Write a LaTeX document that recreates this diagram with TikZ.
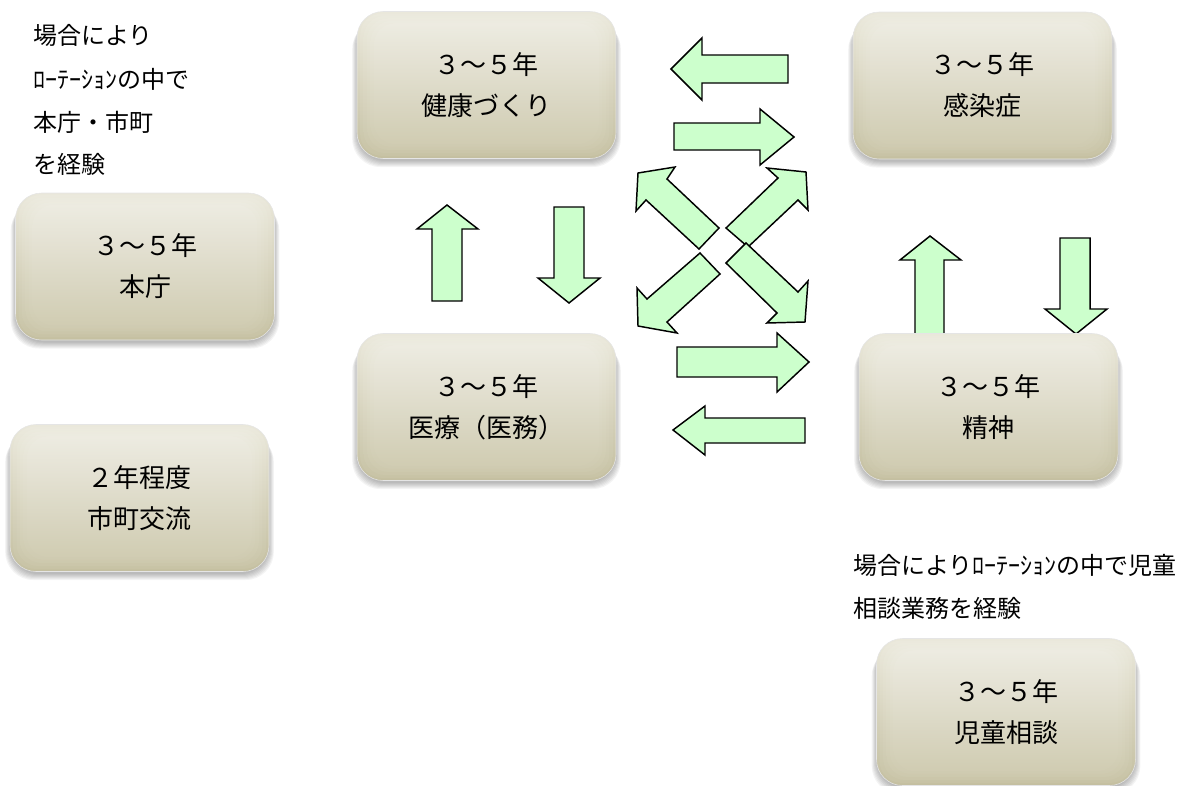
\documentclass[tikz,border=0pt]{standalone}
\usepackage{fontspec}
\setmainfont{Noto Sans CJK JP}
\definecolor{arrowgreen}{RGB}{204,255,204}
\definecolor{boxtop}{RGB}{234,232,219}
\definecolor{boxmid}{RGB}{220,217,198}
\definecolor{boxbot}{RGB}{196,191,160}
\definecolor{innertop}{RGB}{246,245,237}
\definecolor{innerbot}{RGB}{216,212,189}
\tikzset{
  boxsize/.style={minimum width=194.25pt, minimum height=110.25pt, inner sep=0pt},
  rbox/.style={boxsize, rounded corners=19.5pt, top color=boxtop, middle color=boxmid, bottom color=boxbot,
    draw=black!10, line width=0.4pt},
  boxtext/.style={boxsize, align=center, text=black, font=\fontsize{19.5pt}{30.75pt}\selectfont},
  innerglow/.style={rounded corners=16pt, top color=innertop, bottom color=innerbot, opacity=0.16},
  note/.style={anchor=west, inner sep=0pt, text=black, font=\fontsize{18pt}{21pt}\selectfont},
  blockarrow/.style={fill=arrowgreen, draw=black, line width=1.1pt, line join=miter},
  shadowlayer/.style={fill=black, opacity=0.045, rounded corners=21pt}
}
\newcommand\roundbox[4]{%
  \foreach \i in {0,...,6}{%
    \path[shadowlayer] ({#2-129.5-0.8*\i},{#3-70+\i}) rectangle ({#2+129.5+0.8*\i},{#3+76+\i});
  }
  \node[rbox] (#1) at (#2,#3) {};
  \foreach \j in {1,...,5}{%
    \path[innerglow] ([xshift=2.6*\j pt,yshift=-1.8*\j pt]#1.north west) rectangle ([xshift=-2.6*\j pt,yshift=2.2*\j pt]#1.south east);
  }
  \node[boxtext] (#1-text) at (#1) {#4};
}
\begin{document}
\begin{tikzpicture}[x=0.75pt,y=-0.75pt]
\useasboundingbox (0,0) rectangle (1184,785);
% horizontal arrows
\draw[blockarrow] (671,69) -- (702,38) -- (702,55) -- (788,55) -- (788,83) -- (702,83) -- (702,100) -- cycle;
\draw[blockarrow] (794,137) -- (760,109) -- (760,123) -- (674,123) -- (674,150) -- (760,150) -- (760,165) -- cycle;
\draw[blockarrow] (809,362) -- (777,333) -- (777,347) -- (677,347) -- (677,377) -- (777,377) -- (777,392) -- cycle;
\draw[blockarrow] (673,430) -- (705,406) -- (705,418) -- (805,418) -- (805,443) -- (705,443) -- (705,455) -- cycle;
% vertical arrows
\draw[blockarrow] (447,205) -- (478,229) -- (462,229) -- (462,301) -- (432,301) -- (432,229) -- (417,229) -- cycle;
\draw[blockarrow] (569,303) -- (600,278) -- (584,278) -- (584,207) -- (554,207) -- (554,278) -- (538,278) -- cycle;
\draw[blockarrow] (930,236) -- (961,260) -- (944,260) -- (944,334) -- (915,334) -- (915,260) -- (900,260) -- cycle;
\draw[blockarrow] (1076,334) -- (1107,309) -- (1090,309) -- (1090,238) -- (1060,238) -- (1060,309) -- (1045,309) -- cycle;
% diagonal arrows
\draw[blockarrow] (638,173) -- (675,167) -- (667,179) -- (719,228) -- (699,249) -- (646,200) -- (636,211) -- cycle;
\draw[blockarrow] (806,172) -- (808,210) -- (798,200) -- (748,247) -- (726,228) -- (778,178) -- (767,168) -- cycle;
\draw[blockarrow] (638,326) -- (637,288) -- (647,299) -- (700,253) -- (720,274) -- (667,322) -- (677,333) -- cycle;
\draw[blockarrow] (805,322) -- (808,281) -- (798,292) -- (746,243) -- (726,263) -- (777,313) -- (767,323) -- cycle;
% boxes
\roundbox{kenko}{486.5}{85}{３～５年\\健康づくり}
\roundbox{kansen}{982.5}{85.5}{３～５年\\感染症}
\roundbox{honcho}{145}{266.5}{３～５年\\本庁}
\roundbox{iryo}{486.5}{407}{３～５年\\医療（医務）}
\roundbox{seishin}{988.5}{407}{３～５年\\精神}
\roundbox{shicho}{139.5}{498}{２年程度\\市町交流}
\roundbox{jido}{1006}{712}{３～５年\\児童相談}
% notes
\node[note] (n1) at (33,35) {場合により};
\node[note] (n2) at (33,79) {ﾛｰﾃｰｼｮﾝの中で};
\node[note] (n3) at (33,122) {本庁・市町};
\node[note] (n4) at (33,164) {を経験};
\node[note] (n5) at (853,565) {場合によりﾛｰﾃｰｼｮﾝの中で児童};
\node[note] (n6) at (853,608) {相談業務を経験};
\end{tikzpicture}
\end{document}
